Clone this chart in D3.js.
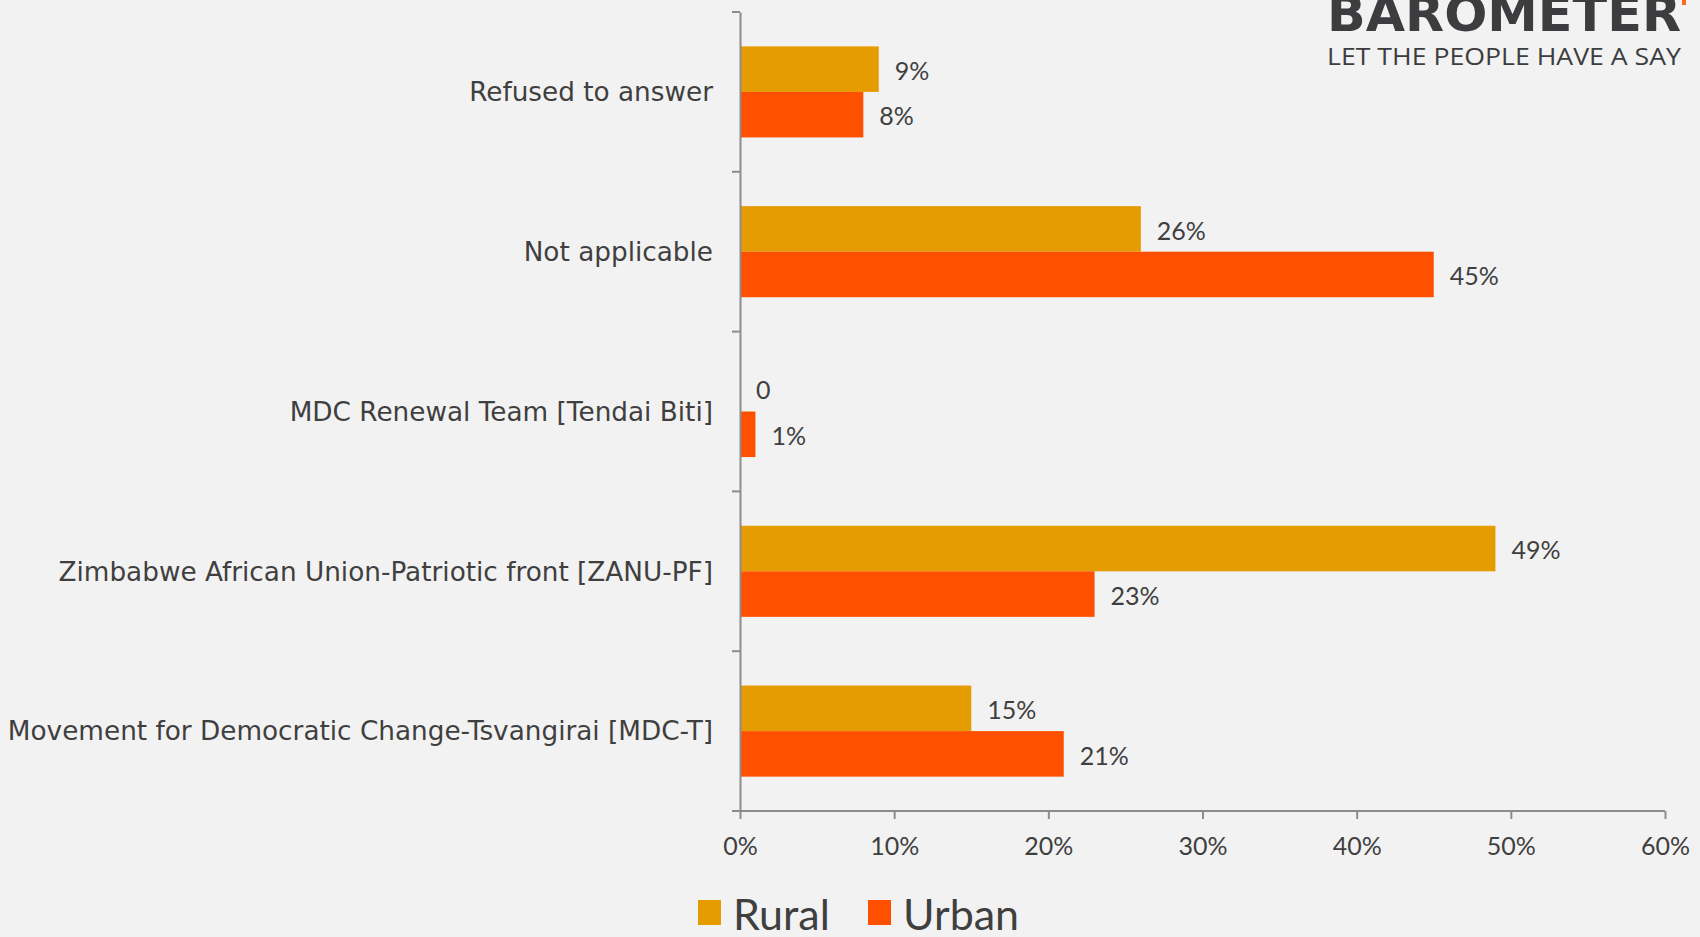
<!DOCTYPE html>
<html>
<head>
<meta charset="utf-8">
<script src="https://cdn.jsdelivr.net/npm/d3@7"></script>
<style>
  html, body { margin: 0; padding: 0; background: #f2f2f2; }
  svg { display: block; }
  text { font-family: "Lato", "Open Sans", sans-serif; fill: #3f3f3f; }
</style>
</head>
<body>
<svg id="chart" width="1700" height="937"></svg>
<script>
const categories = [
  "Refused to answer",
  "Not applicable",
  "MDC Renewal Team [Tendai Biti]",
  "Zimbabwe African Union-Patriotic front [ZANU-PF]",
  "Movement for Democratic Change-Tsvangirai [MDC-T]"
];
const seriesNames = ["Rural", "Urban"];
const ruralValues = [9, 26, 0, 49, 15];
const urbanValues = [8, 45, 1, 23, 21];
const ruralLabels = ["9%", "26%", "0", "49%", "15%"];
const urbanLabels = ["8%", "45%", "1%", "23%", "21%"];
const xTicks = [0, 10, 20, 30, 40, 50, 60];
const xTickLabels = ["0%", "10%", "20%", "30%", "40%", "50%", "60%"];
const colors = ["#e59c00", "#ff5000"];

const svg = d3.select("#chart");

// layout
const plot = { left: 740, right: 1665, top: 12, bottom: 811 };

const x = d3.scaleLinear().domain([0, 60]).range([plot.left, plot.right]);
const y = d3.scaleBand().domain(categories).range([plot.top, plot.bottom]).paddingInner(0).paddingOuter(0);
const groupFrac = 0.57;
const sub = d3.scaleBand().domain(seriesNames)
  .range([(1 - groupFrac) / 2 * y.bandwidth(), (1 + groupFrac) / 2 * y.bandwidth()]);

// logo
const logo = svg.append("g");
logo.append("text").attr("x", 1681).attr("y", 31).attr("text-anchor", "end")
  .style("font-family", "'DejaVu Sans', sans-serif").style("font-weight", "bold")
  .style("font-size", "50px").style("fill", "#3d3d40").attr("textLength", 354)
  .attr("lengthAdjust", "spacingAndGlyphs").text("BAROMETER");
logo.append("text").attr("x", 1681).attr("y", 65).attr("text-anchor", "end")
  .style("font-family", "'Open Sans', sans-serif")
  .style("font-size", "23px").style("fill", "#3d3d40").attr("textLength", 354)
  .attr("lengthAdjust", "spacingAndGlyphs").text("LET THE PEOPLE HAVE A SAY");
logo.append("rect").attr("x", 1682).attr("y", 0).attr("width", 4).attr("height", 5).attr("fill", "#ff6a1a");

const data = categories.map((c, i) => ({
  cat: c,
  vals: [
    { s: "Rural", v: ruralValues[i], label: ruralLabels[i] },
    { s: "Urban", v: urbanValues[i], label: urbanLabels[i] }
  ]
}));

const groups = svg.append("g").selectAll("g").data(data).join("g")
  .attr("transform", d => `translate(0,${y(d.cat)})`);

groups.selectAll("rect").data(d => d.vals).join("rect")
  .attr("x", x(0))
  .attr("y", d => sub(d.s))
  .attr("width", d => x(d.v) - x(0))
  .attr("height", sub.bandwidth())
  .attr("fill", (d, i) => colors[i]);

groups.selectAll("text.val").data(d => d.vals).join("text")
  .attr("class", "val")
  .attr("x", d => x(d.v) + 16)
  .attr("y", d => sub(d.s) + sub.bandwidth() / 2 + 2)
  .attr("dy", "0.35em")
  .style("font-size", "25px")
  .text(d => d.label);

// Y axis
const yAxis = d3.axisLeft(y).tickSize(0).tickFormat("");
const gy = svg.append("g").attr("transform", `translate(${plot.left},0)`).call(yAxis);
gy.select(".domain").attr("stroke", "#8c8c8c").attr("stroke-width", 2);
gy.selectAll("line.bt").data(categories).join("line").attr("class", "bt")
  .attr("x1", -8).attr("x2", 0)
  .attr("y1", d => y(d) + y.bandwidth()).attr("y2", d => y(d) + y.bandwidth())
  .attr("stroke", "#8c8c8c").attr("stroke-width", 2);
gy.append("line").attr("x1", -8).attr("x2", 0).attr("y1", plot.top).attr("y2", plot.top)
  .attr("stroke", "#8c8c8c").attr("stroke-width", 2);
// category labels
svg.append("g").selectAll("text").data(categories).join("text")
  .attr("x", plot.left - 27)
  .attr("y", d => y(d) + y.bandwidth() / 2)
  .attr("dy", "0.35em")
  .attr("text-anchor", "end")
  .style("font-family", "'DejaVu Sans', sans-serif")
  .style("font-size", "26.3px")
  .text(d => d);

// X axis
const xAxis = d3.axisBottom(x).tickValues(xTicks).tickSize(8).tickPadding(18)
  .tickFormat((d, i) => xTickLabels[i]);
const gx = svg.append("g").attr("transform", `translate(0,${plot.bottom})`).call(xAxis);
gx.select(".domain").attr("stroke", "#8c8c8c").attr("stroke-width", 2).attr("d", `M${plot.left},0H${plot.right}`);
gx.selectAll(".tick line").attr("stroke", "#8c8c8c").attr("stroke-width", 2);
gx.selectAll(".tick text").style("font-size", "25px").style("font-family", "Lato, sans-serif").style("fill", "#3f3f3f");

// Legend
const legend = svg.append("g");
const legendX = [698, 868];
seriesNames.forEach((s, i) => {
  legend.append("rect").attr("x", legendX[i]).attr("y", 900).attr("width", 23).attr("height", 25).attr("fill", colors[i]);
  legend.append("text").attr("x", legendX[i] + 35).attr("y", 930).style("font-size", "43px").text(s);
});
</script>
</body>
</html>
